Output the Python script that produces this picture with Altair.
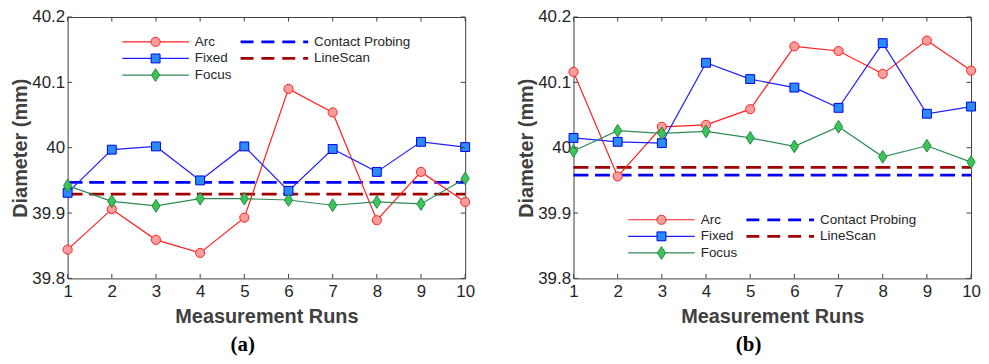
import altair as alt
import pandas as pd

# ---------------- data ----------------
runs = list(range(1, 11))
series_names = ["Arc", "Fixed", "Focus"]
ref_names = ["Contact Probing", "LineScan"]

arc_a = [39.844, 39.906, 39.859, 39.839, 39.893, 40.090, 40.054, 39.889, 39.963, 39.917]
fixed_a = [39.931, 39.997, 40.002, 39.950, 40.002, 39.934, 39.998, 39.963, 40.009, 40.001]
focus_a = [39.942, 39.918, 39.911, 39.922, 39.922, 39.920, 39.912, 39.917, 39.914, 39.953]
contact_a = 39.947
linescan_a = 39.929

arc_b = [40.116, 39.956, 40.032, 40.035, 40.059, 40.155, 40.148, 40.113, 40.164, 40.118]
fixed_b = [40.015, 40.009, 40.007, 40.130, 40.105, 40.092, 40.061, 40.160, 40.052, 40.063]
focus_b = [39.995, 40.026, 40.022, 40.025, 40.015, 40.002, 40.032, 39.986, 40.003, 39.978]
contact_b = 39.958
linescan_b = 39.970

x_ticks = runs
y_ticks = [39.8, 39.9, 40.0, 40.1, 40.2]

# ---------------- style ----------------
W, H = 400, 263
TL = 4.5
FONT = "Liberation Sans"
AXC = "#404040"
DIAMOND = "M0,-1.25L0.8,0L0,1.25L-0.8,0Z"
STY = {
    "Arc": dict(line="#ff2020", fill="#ff9c9c", stroke="#ff2020", shape="circle", size=85),
    "Fixed": dict(line="#2020ff", fill="#2b8cff", stroke="#0000e6", shape="square", size=80),
    "Focus": dict(line="#2e8b57", fill="#3cc45a", stroke="#1f8a3a", shape=DIAMOND, size=105),
}
REF = {"Contact Probing": "#0000ff", "LineScan": "#a00000"}
DASH = [15, 6.7]


def panel(arc, fixed, focus, contact, linescan, legend_top, label):
    vals = {"Arc": arc, "Fixed": fixed, "Focus": focus}
    refs = {"Contact Probing": contact, "LineScan": linescan}
    xs = alt.Scale(domain=[1, 10], nice=False, zero=False)
    ys = alt.Scale(domain=[39.8, 40.2], nice=False, zero=False)
    xax = alt.Axis(values=x_ticks, title="Measurement Runs", ticks=False, domain=False,
                   grid=False, format="d", labelPadding=5, titlePadding=7, labelFlush=False)
    yax = alt.Axis(values=y_ticks, title="Diameter (mm)", ticks=False, domain=False,
                   grid=False, format=".3~g", labelPadding=3, titlePadding=1)
    layers = []
    # reference dashed lines
    for name in ref_names:
        layers.append(
            alt.Chart(pd.DataFrame({"value": [refs[name]]}))
            .mark_rule(color=REF[name], strokeWidth=2.8, strokeDash=DASH)
            .encode(y=alt.Y("value:Q", scale=ys, axis=yax), x=alt.value(0), x2=alt.value(W))
        )
    # series
    for name in series_names:
        s = STY[name]
        df = pd.DataFrame({"run": runs, "value": vals[name]})
        base = alt.Chart(df).encode(
            x=alt.X("run:Q", scale=xs, axis=xax),
            y=alt.Y("value:Q", scale=ys, axis=yax),
        )
        layers.append(base.mark_line(color=s["line"], strokeWidth=1.2))
        layers.append(base.mark_point(filled=True, shape=s["shape"], size=s["size"],
                                      fill=s["fill"], stroke=s["stroke"], strokeWidth=1,
                                      opacity=1))
    # inward ticks
    tx = pd.DataFrame({"t": x_ticks})
    ty = pd.DataFrame({"t": y_ticks})
    layers.append(alt.Chart(tx).mark_rule(color=AXC, strokeWidth=1).encode(
        x=alt.X("t:Q", scale=xs, axis=xax), y=alt.value(H), y2=alt.value(H - TL)))
    layers.append(alt.Chart(tx).mark_rule(color=AXC, strokeWidth=1).encode(
        x=alt.X("t:Q", scale=xs, axis=xax), y=alt.value(0), y2=alt.value(TL)))
    layers.append(alt.Chart(ty).mark_rule(color=AXC, strokeWidth=1).encode(
        y=alt.Y("t:Q", scale=ys, axis=yax), x=alt.value(0), x2=alt.value(TL)))
    layers.append(alt.Chart(ty).mark_rule(color=AXC, strokeWidth=1).encode(
        y=alt.Y("t:Q", scale=ys, axis=yax), x=alt.value(W), x2=alt.value(W - TL)))
    # legend
    dummy = pd.DataFrame({"a": [0]})
    row_h = 16.7
    for i, name in enumerate(series_names):
        s = STY[name]
        yy = legend_top + i * row_h
        layers.append(alt.Chart(dummy).mark_rule(color=s["line"], strokeWidth=1.2).encode(
            x=alt.value(55), x2=alt.value(122), y=alt.value(yy)))
        layers.append(alt.Chart(dummy).mark_point(filled=True, shape=s["shape"], size=s["size"],
                                                  fill=s["fill"], stroke=s["stroke"],
                                                  strokeWidth=1, opacity=1).encode(
            x=alt.value(88.5), y=alt.value(yy)))
        layers.append(alt.Chart(dummy).mark_text(align="left", baseline="middle", font=FONT,
                                                 fontSize=13.5, color="#262626").encode(
            x=alt.value(128), y=alt.value(yy), text=alt.value(name)))
    for i, name in enumerate(ref_names):
        yy = legend_top + i * row_h
        layers.append(alt.Chart(dummy).mark_rule(color=REF[name], strokeWidth=2.8,
                                                 strokeDash=[13, 8]).encode(
            x=alt.value(174), x2=alt.value(242), y=alt.value(yy)))
        layers.append(alt.Chart(dummy).mark_text(align="left", baseline="middle", font=FONT,
                                                 fontSize=13.5, color="#262626").encode(
            x=alt.value(248), y=alt.value(yy), text=alt.value(name)))

    return alt.layer(*layers).properties(
        width=W, height=H,
        title=alt.TitleParams(label, orient="bottom", font="Liberation Serif", fontSize=21,
                              fontWeight="bold", color="black", offset=8, anchor="middle",
                              frame="bounds"),
    )


pa = panel(arc_a, fixed_a, focus_a, contact_a, linescan_a, 25, "(a)")
pb = panel(arc_b, fixed_b, focus_b, contact_b, linescan_b, 204, "(b)")

chart = (
    alt.hconcat(pa, pb, spacing=41)
    .properties(padding={"left": 2, "top": -2, "right": 0, "bottom": 0})
    .configure_view(stroke=AXC, strokeWidth=1)
    .configure_axis(labelFont=FONT, labelFontSize=17, labelColor="#262626",
                    titleFont=FONT, titleFontSize=20, titleFontWeight="bold",
                    titleColor="#404040")
)

chart.save("out.html", embed_options={"renderer": "svg", "actions": False})
